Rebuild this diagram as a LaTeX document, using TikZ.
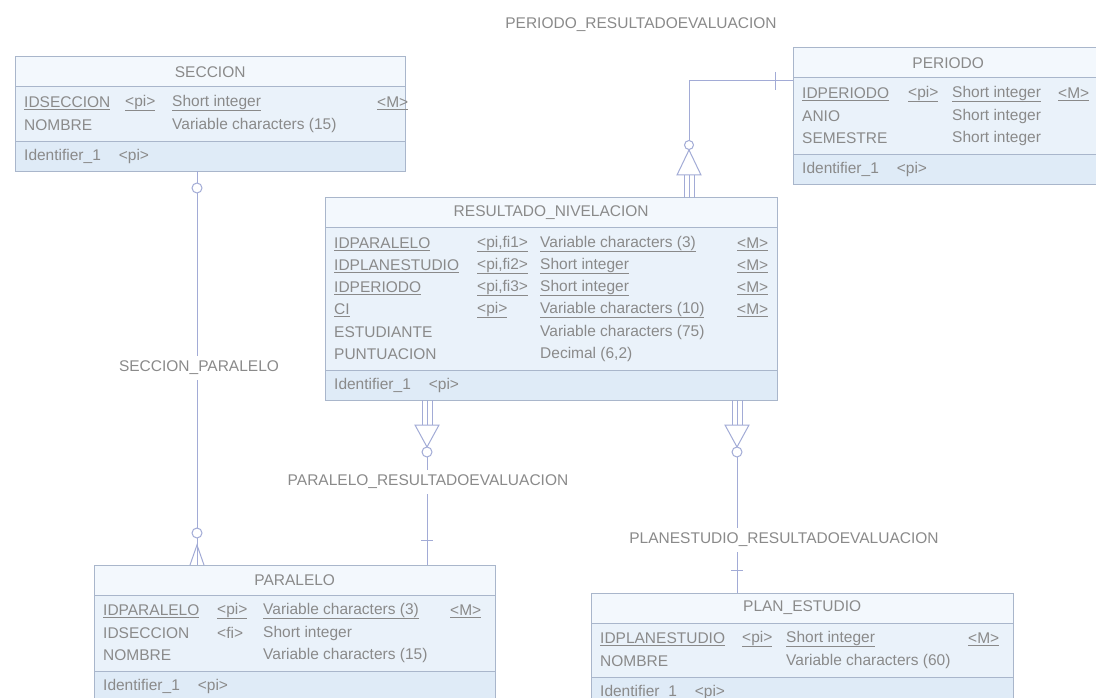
\documentclass[tikz,border=0pt]{standalone}
\usepackage{fontspec}
\setmainfont{Liberation Sans}
\definecolor{boxline}{HTML}{A9B6CB}
\definecolor{boxfill}{HTML}{EAF2FA}
\definecolor{topfill}{HTML}{F3F8FD}
\definecolor{idfill}{HTML}{DFEBF7}
\definecolor{linkc}{HTML}{A2ABD6}
\definecolor{txtc}{HTML}{8A8A8A}

\def\rowh{22}
\def\pk#1{\underline{#1}}
\tikzstyle{box}=[fill=boxfill,anchor=north west,inner sep=0pt]
\tikzstyle{t}=[anchor=west,inner sep=0pt,text=txtc,font=\fontsize{15.5}{18}\selectfont]
\tikzstyle{ttl}=[t,anchor=center]
\tikzstyle{lbl}=[t,anchor=center,fill=white,inner sep=5pt]
\tikzstyle{link}=[draw=linkc,line width=1pt]
\tikzstyle{end}=[link,fill=white]

% entity box: name, x, y, width, rows, title
\newcommand\entity[6]{%
  \node[box,minimum width=#4pt,minimum height={(70+#5*\rowh)*1pt}] (#1) at (#2,#3) {};
  \fill[topfill] (#1.north west) rectangle ([yshift=-30pt]#1.north east);
  \fill[idfill] ([yshift=30pt]#1.south west) rectangle (#1.south east);
  \draw[boxline,line width=1pt] (#1.north west) rectangle (#1.south east)
    ([yshift=-30pt]#1.north west) -- ([yshift=-30pt]#1.north east)
    ([yshift=30pt]#1.south west) -- ([yshift=30pt]#1.south east);
  \node[ttl] (#1-t) at ([yshift=-15pt]#1.north) {#6};
  \node[t] (#1-id) at ([xshift=9pt,yshift=15pt]#1.south west) {Identifier\_1\hspace{18pt}<pi>};
}
% attribute rows: box, col2, col3, col4, list
\newcommand\rows[5]{%
  \foreach \f/\n/\k/\ty/\m [count=\i from 0] in {#5}{
    \node[t] (#1-n\i) at ([xshift=9pt,yshift={-(46+\i*\rowh)*1pt}]#1.north west) {\f{\n}};
    \node[t] (#1-k\i) at ([xshift=#2pt,yshift={-(46+\i*\rowh)*1pt}]#1.north west) {\f{\k}};
    \node[t] (#1-y\i) at ([xshift=#3pt,yshift={-(46+\i*\rowh)*1pt}]#1.north west) {\f{\ty}};
    \node[t] (#1-m\i) at ([xshift=#4pt,yshift={-(46+\i*\rowh)*1pt}]#1.north west) {\f{\m}};
  }}

\begin{document}
\begin{tikzpicture}[x=1pt,y=-1pt]
\useasboundingbox (0,0) rectangle (1096,698);
\fill[white] (0,0) rectangle (1096,698);
\clip (0,0) rectangle (1096,698);

% entities
\entity{sec}{15}{57}{390}{2}{SECCION}
\rows{sec}{110}{157}{362}{\pk/IDSECCION/<pi>/Short integer/<M>, \relax/NOMBRE/{}/Variable characters (15)/{}}
\entity{per}{793}{48}{310}{3}{PERIODO}
\rows{per}{115}{159}{265}{\pk/IDPERIODO/<pi>/Short integer/<M>, \relax/ANIO/{}/Short integer/{}, \relax/SEMESTRE/{}/Short integer/{}}
\entity{res}{325}{198}{452}{6}{RESULTADO\_NIVELACION}
\rows{res}{152}{215}{412}{\pk/IDPARALELO/{<pi,fi1>}/Variable characters (3)/<M>, \pk/IDPLANESTUDIO/{<pi,fi2>}/Short integer/<M>, \pk/IDPERIODO/{<pi,fi3>}/Short integer/<M>, \pk/CI/<pi>/Variable characters (10)/<M>, \relax/ESTUDIANTE/{}/Variable characters (75)/{}, \relax/PUNTUACION/{}/{Decimal (6,2)}/{}}
\entity{par}{94}{565}{401}{3}{PARALELO}
\rows{par}{123}{169}{356}{\pk/IDPARALELO/<pi>/Variable characters (3)/<M>, \relax/IDSECCION/<fi>/Short integer/{}, \relax/NOMBRE/{}/Variable characters (15)/{}}
\entity{plan}{591}{593}{422}{2}{PLAN\_ESTUDIO}
\rows{plan}{151}{195}{377}{\pk/IDPLANESTUDIO/<pi>/Short integer/<M>, \relax/NOMBRE/{}/Variable characters (60)/{}}

% link columns
\coordinate (sp) at (197,0);
\coordinate (pr) at (689,0);
\coordinate (rp) at (427,0);
\coordinate (rl) at (737,0);

% SECCION_PARALELO
\draw[link] (sp |- sec.south) -- (sp |- par.north);
\node[lbl] (l1) at (199,368) {SECCION\_PARALELO};
\draw[end] (197,188) circle (5);
\draw[end] (197,533) circle (5);
\draw[link] (190,565) -- (197,545) -- (204,565);

% PERIODO_RESULTADOEVALUACION
\node[ttl] (l0) at (641,25) {PERIODO\_RESULTADOEVALUACION};
\draw[link] ([yshift=-33pt]per.north west) -| (pr |- res.north);
\draw[link] (775,72) -- (775,90);
\foreach \d in {-5,5}
  \draw[link] (689+\d,175) -- (689+\d,198);
\draw[end] (689,150) -- (677,175) -- (701,175) -- cycle;
\draw[end] (689,145) circle (4.5);

% PARALELO_RESULTADOEVALUACION
\draw[link] (rp |- res.south) -- (rp |- par.north);
\node[lbl] (l2) at (428,482) {PARALELO\_RESULTADOEVALUACION};
\foreach \d in {-5,5}
  \draw[link] (427+\d,400) -- (427+\d,425);
\draw[end] (415,425) -- (439,425) -- (427,447) -- cycle;
\draw[end] (427,452) circle (5);
\draw[link] (421,540) -- (433,540);

% PLANESTUDIO_RESULTADOEVALUACION
\draw[link] (rl |- res.south) -- (rl |- plan.north);
\node[lbl] (l3) at (784,540) {PLANESTUDIO\_RESULTADOEVALUACION};
\foreach \d in {-5,5}
  \draw[link] (737+\d,400) -- (737+\d,425);
\draw[end] (725,425) -- (749,425) -- (737,447) -- cycle;
\draw[end] (737,452) circle (5);
\draw[link] (731,570) -- (743,570);
\end{tikzpicture}
\end{document}
